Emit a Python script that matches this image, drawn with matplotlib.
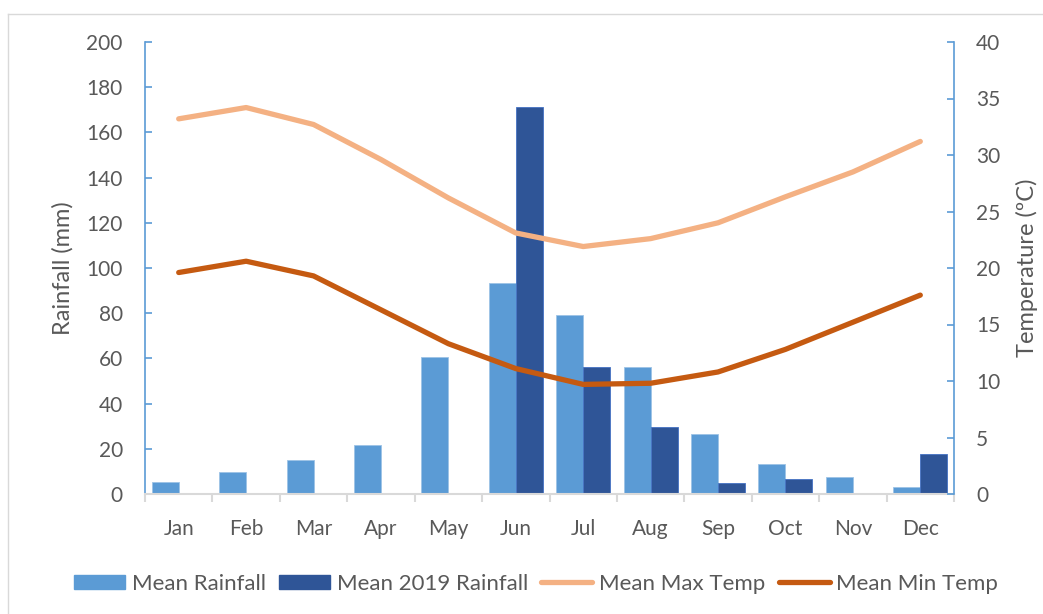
import matplotlib.pyplot as plt
import numpy as np
from matplotlib.patches import Rectangle
from matplotlib.lines import Line2D

months = ['Jan', 'Feb', 'Mar', 'Apr', 'May', 'Jun', 'Jul', 'Aug', 'Sep', 'Oct', 'Nov', 'Dec']
mean_rainfall = [5.3, 9.7, 14.9, 21.7, 60.6, 93.5, 79.2, 56.0, 26.4, 13.3, 7.4, 3.2]
rainfall_2019 = [0, 0, 0, 0, 0, 171.4, 56.3, 29.6, 4.7, 6.6, 0, 17.7]
max_temp = [33.2, 34.2, 32.7, 29.6, 26.2, 23.1, 21.9, 22.6, 24.0, 26.3, 28.5, 31.2]
min_temp = [19.6, 20.6, 19.3, 16.3, 13.3, 11.1, 9.7, 9.8, 10.8, 12.8, 15.2, 17.6]

plt.rcParams['font.family'] = ['Lato', 'DejaVu Sans']
txt = '#595959'
blue_axis = '#5B9BD5'
c_mean = '#5B9BD5'
c_2019 = '#2F5597'
c_max = '#F4B183'
c_min = '#C55A11'

fig = plt.figure(figsize=(10.43, 6.14), dpi=100)
ax = fig.add_axes([145 / 1043, 1 - 494 / 614, (954 - 145) / 1043, (494 - 42) / 614])
x = np.arange(len(months))
w = 0.4
ax.bar(x - w / 2, mean_rainfall, w, color=c_mean, edgecolor='#9DC3E6', linewidth=0.6, zorder=2)
ax.bar(x + w / 2, rainfall_2019, w, color=c_2019, edgecolor='#4472C4', linewidth=0.6, zorder=2)
ax.set_xlim(-0.5, 11.5)
ax.set_ylim(0, 200)
ax.set_yticks(np.arange(0, 201, 20))
ax.set_xticks(x)
ax.set_xticklabels(months)
ax.set_xticks(np.arange(-0.5, 12, 1), minor=True)
ax.tick_params(axis='x', which='major', length=0, colors=txt, labelsize=15, pad=18)
ax.tick_params(axis='x', which='minor', length=6, color='#D9D9D9', width=1.5, direction='out')
ax.tick_params(axis='y', direction='in', length=5, color=blue_axis, width=1.2, labelcolor=txt, labelsize=15, pad=16)
ax.set_ylabel('Rainfall (mm)', color=txt, fontsize=17, labelpad=9)
for s in ['top', 'right']:
    ax.spines[s].set_visible(False)
ax.spines['left'].set_color(blue_axis)
ax.spines['left'].set_linewidth(1.2)
ax.spines['bottom'].set_color('#D9D9D9')
ax.spines['bottom'].set_linewidth(1.5)

ax2 = ax.twinx()
ax2.plot(x, max_temp, color=c_max, linewidth=3.8, solid_capstyle='round')
ax2.plot(x, min_temp, color=c_min, linewidth=3.8, solid_capstyle='round')
ax2.set_ylim(0, 40)
ax2.set_yticks(np.arange(0, 41, 5))
ax2.tick_params(axis='y', direction='in', length=5, color=blue_axis, width=1.2, labelcolor=txt, labelsize=15, pad=16)
ax2.set_ylabel('Temperature (ºC)', color=txt, fontsize=17, labelpad=11)
for s in ['top', 'left', 'bottom']:
    ax2.spines[s].set_visible(False)
ax2.spines['right'].set_color(blue_axis)
ax2.spines['right'].set_linewidth(1.2)

handles = [
    Rectangle((0, 0), 1, 1, color=c_mean),
    Rectangle((0, 0), 1, 1, color=c_2019),
    Line2D([0], [0], color=c_max, linewidth=3.8, solid_capstyle='round'),
    Line2D([0], [0], color=c_min, linewidth=3.8, solid_capstyle='round'),
]
labels = ['Mean Rainfall', 'Mean 2019 Rainfall', 'Mean Max Temp', 'Mean Min Temp']
fig.legend(handles, labels, loc='center', bbox_to_anchor=(536 / 1043, 1 - 584 / 614), ncol=4,
           frameon=False, fontsize=16, labelcolor=txt, handlelength=2.3, handleheight=0.63,
           handletextpad=0.3, columnspacing=0.6)

# faint chart border
fig.add_artist(Line2D([8 / 1043, 8 / 1043], [0, 1 - 14 / 614], transform=fig.transFigure, color='#D9D9D9', linewidth=1))
fig.add_artist(Line2D([8 / 1043, 1], [1 - 14 / 614, 1 - 14 / 614], transform=fig.transFigure, color='#D9D9D9', linewidth=1))

fig.savefig('out.png', dpi=100)
